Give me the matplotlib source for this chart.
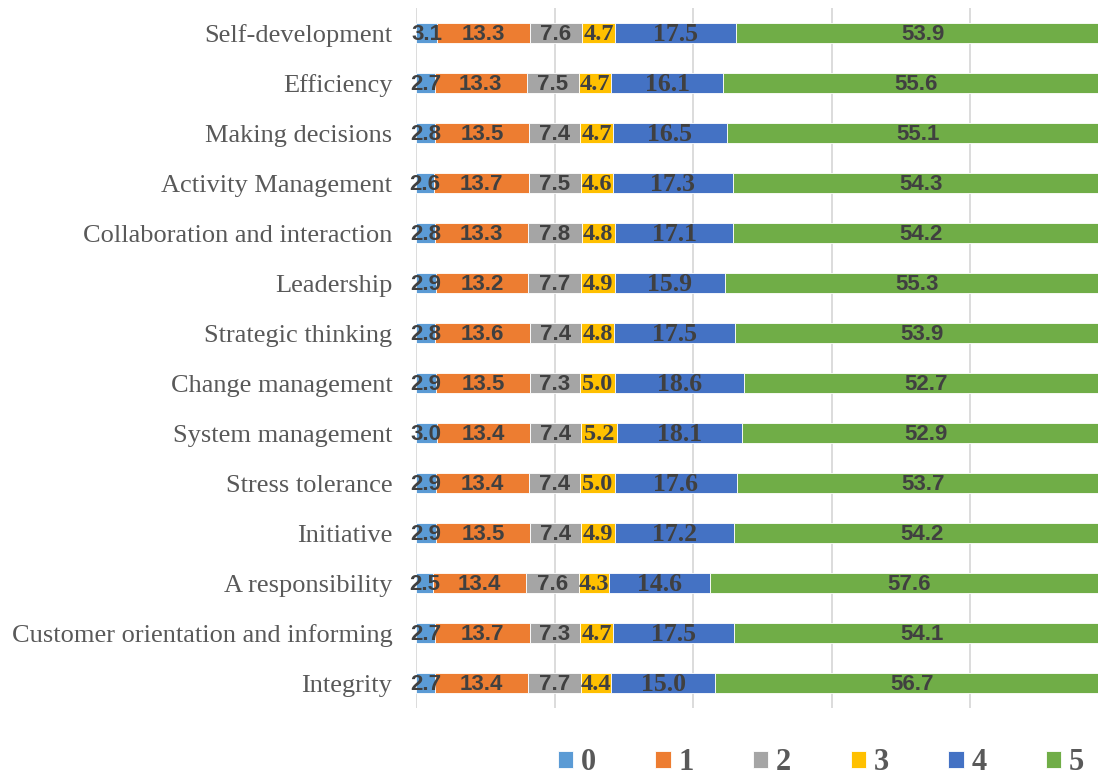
import matplotlib.pyplot as plt
import numpy as np

categories = ['Self-development', 'Efficiency', 'Making decisions', 'Activity Management',
              'Collaboration and interaction', 'Leadership', 'Strategic thinking',
              'Change management', 'System management', 'Stress tolerance', 'Initiative',
              'A responsibility', 'Customer orientation and informing', 'Integrity']
levels = ['0', '1', '2', '3', '4', '5']
s0 = [3.1, 2.7, 2.8, 2.6, 2.8, 2.9, 2.8, 2.9, 3.0, 2.9, 2.9, 2.5, 2.7, 2.7]
s1 = [13.3, 13.3, 13.5, 13.7, 13.3, 13.2, 13.6, 13.5, 13.4, 13.4, 13.5, 13.4, 13.7, 13.4]
s2 = [7.6, 7.5, 7.4, 7.5, 7.8, 7.7, 7.4, 7.3, 7.4, 7.4, 7.4, 7.6, 7.3, 7.7]
s3 = [4.7, 4.7, 4.7, 4.6, 4.8, 4.9, 4.8, 5.0, 5.2, 5.0, 4.9, 4.3, 4.7, 4.4]
s4 = [17.5, 16.1, 16.5, 17.3, 17.1, 15.9, 17.5, 18.6, 18.1, 17.6, 17.2, 14.6, 17.5, 15.0]
s5 = [53.9, 55.6, 55.1, 54.3, 54.2, 55.3, 53.9, 52.7, 52.9, 53.7, 54.2, 57.6, 54.1, 56.7]

colors = ['#5B9BD5', '#ED7D31', '#A5A5A5', '#FFC000', '#4472C4', '#70AD47']
# the data labels mix two fonts, as in the original workbook
label_fonts = ['Liberation Sans', 'Liberation Sans', 'Liberation Sans',
               'Liberation Serif', 'Liberation Serif', 'Liberation Sans']
label_sizes = [16, 16, 16, 17.5, 18.5, 16]

series = [s0, s1, s2, s3, s4, s5]

fig = plt.figure(figsize=(10.98, 7.78), dpi=100)
# plot area runs a little past the right edge of the picture, like the source
ax = fig.add_axes([416 / 1098, 1 - 708 / 778, (1109 - 416) / 1098, 700 / 778])

y = np.arange(len(categories))
left = np.zeros(len(categories))
for vals, col, name, fnt, fs in zip(series, colors, levels, label_fonts, label_sizes):
    vals = np.array(vals)
    ax.barh(y, vals, left=left, height=0.41, color=col, label=name,
            edgecolor='white', linewidth=0.6, zorder=3)
    for yi, l, v in zip(y, left, vals):
        ax.text(l + v / 2, yi + 0.02, f'{v:.1f}', ha='center', va='center',
                fontsize=fs, fontweight='bold', color='#404040',
                family=fnt, zorder=4)
    left += vals

ax.set_xlim(0, 100)
ax.set_ylim(len(categories) - 0.5, -0.5)
ax.set_xticks([0, 20, 40, 60, 80, 100])
ax.set_xticklabels([])
ax.tick_params(axis='x', length=0)
ax.tick_params(axis='y', length=0, pad=17)
ax.set_yticks(y)
ax.set_yticklabels(categories, family='Liberation Serif', fontsize=19, color='#595959')
ax.grid(axis='x', color='#D9D9D9', linewidth=1.3, zorder=0)
for sp in ax.spines.values():
    sp.set_visible(False)

handles, labs = ax.get_legend_handles_labels()
leg = fig.legend(handles, labs, loc='center', bbox_to_anchor=(821 / 1098, 1 - 763 / 778),
                 ncol=6, frameon=False, handlelength=0.5, handleheight=0.5,
                 handletextpad=0.25, columnspacing=1.95, borderpad=0.1,
                 prop={'family': 'Liberation Serif', 'weight': 'bold', 'size': 22})
for t in leg.get_texts():
    t.set_color('#595959')

fig.savefig('out.png', dpi=100)
